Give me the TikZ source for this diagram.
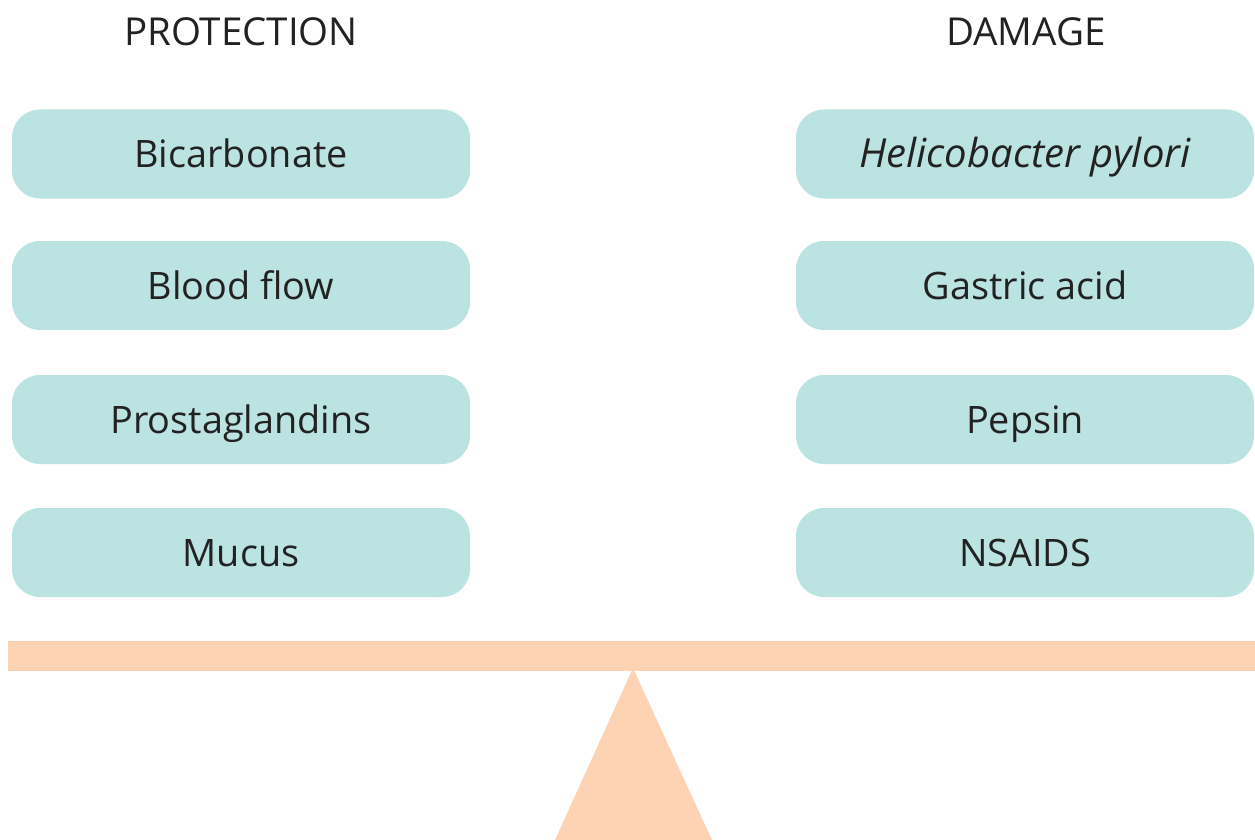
\documentclass[tikz,border=0pt]{standalone}
\usepackage{fontspec}
\setmainfont{Open Sans}
\definecolor{boxfill}{HTML}{BBE3E1}
\definecolor{beamc}{HTML}{FDD3B4}
\definecolor{txt}{HTML}{222222}
\begin{document}
\begin{tikzpicture}[x=1pt,y=-1pt,
  itembox/.style={fill=boxfill,draw=none,rounded corners=28pt,minimum width=458pt,minimum height=89pt,inner sep=0pt,text height=27pt,text depth=0pt,text=txt,font=\fontsize{37.8}{42}\selectfont},
  titlelab/.style={text=txt,font=\fontsize{38.5}{42}\selectfont,inner sep=0pt}]
\useasboundingbox (0,0) rectangle (1255,840);
\node[titlelab] (tp) at (241,32) {PROTECTION};
\node[titlelab] (td) at (1026,32) {DAMAGE};
\node[itembox] (p1) at (241,154) {Bicarbonate};
\node[itembox] (p2) at (241,285.5) {Blood flow};
\node[itembox] (p3) at (241,419.5) {Prostaglandins};
\node[itembox] (p4) at (241,552.5) {Mucus};
\node[itembox] (d1) at (1025,154) {\fontsize{40}{44}\selectfont\itshape Helicobacter pylori};
\node[itembox] (d2) at (1025,285.5) {Gastric acid};
\node[itembox] (d3) at (1025,419.5) {Pepsin};
\node[itembox] (d4) at (1025,552.5) {NSAIDS};
\fill[beamc] (8,641) rectangle (1255,671);
\fill[beamc] (633,668) -- (712,840) -- (555,840) -- cycle;
\end{tikzpicture}
\end{document}
